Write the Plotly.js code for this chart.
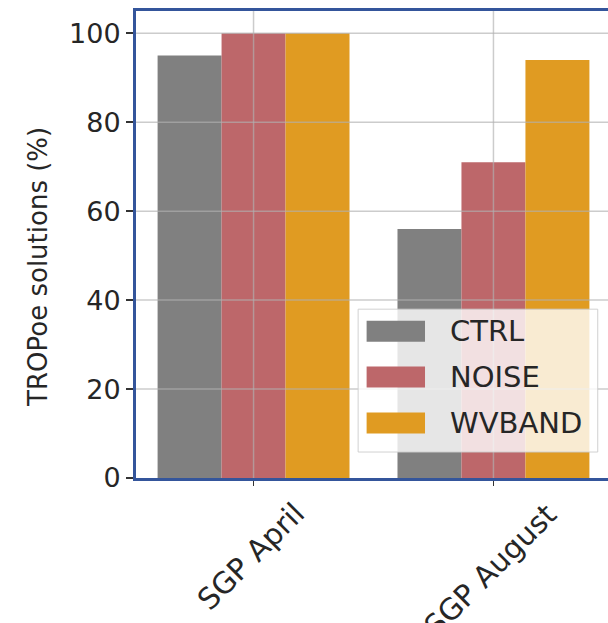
<!DOCTYPE html>
<html>
<head>
<meta charset="utf-8">
<script src="https://cdn.plot.ly/plotly-3.0.1.min.js"></script>
<style>
  html, body { margin: 0; padding: 0; overflow: hidden; background: #fff; }
  #chart { width: 620px; height: 623px; }
</style>
</head>
<body>
<div id="chart"></div>
<script>
// Share of successful TROPoe retrievals per experiment
const categories = ['SGP April', 'SGP August'];
const seriesNames = ['CTRL', 'NOISE', 'WVBAND'];
const ctrlValues = [95, 56];
const noiseValues = [100, 71];
const wvbandValues = [100, 94];
const yTickValues = [0, 20, 40, 60, 80, 100];
const yTitle = 'TROPoe solutions (%)';

const colors = ['#808080', '#bd676a', '#e09b22'];
const textColor = '#262626';
const fontFamily = 'DejaVu Sans, sans-serif';

// plot box geometry (pixels)
const W = 620, H = 623;
const M = { l: 135.5, r: 8.7, t: 10.5, b: 145 };
const plotW = W - M.l - M.r;
const plotH = H - M.t - M.b;
const px = x => (x - M.l) / plotW;
const py = y => (H - M.b - y) / plotH;

const seriesValues = [ctrlValues, noiseValues, wvbandValues];
const traces = seriesNames.map((name, i) => ({
  type: 'bar',
  name: name,
  x: categories,
  y: seriesValues[i],
  marker: { color: colors[i], line: { width: 0 } },
  showlegend: false,
  hoverinfo: 'x+y+name'
}));

const gridColor = 'rgba(176,176,176,0.65)';
const shapes = [];
// grid drawn over the bars
yTickValues.filter(v => v > 0).forEach(v => shapes.push({
  type: 'line', layer: 'above', xref: 'paper', yref: 'y',
  x0: 0, x1: 1, y0: v, y1: v,
  line: { color: gridColor, width: 1.5 }
}));
categories.forEach(c => shapes.push({
  type: 'line', layer: 'above', xref: 'x', yref: 'paper',
  x0: c, x1: c, y0: 0, y1: 1,
  line: { color: gridColor, width: 1.5 }
}));

// legend box
shapes.push({
  type: 'rect', layer: 'above', xref: 'paper', yref: 'paper',
  x0: px(358), x1: px(598), y0: py(452), y1: py(309),
  fillcolor: 'rgba(255,255,255,0.8)',
  line: { color: 'rgba(204,204,204,0.9)', width: 1 }
});
const legendRows = [331, 377, 423];
const annotations = [];
seriesNames.forEach((name, i) => {
  shapes.push({
    type: 'rect', layer: 'above', xref: 'paper', yref: 'paper',
    x0: px(366.5), x1: px(425), y0: py(legendRows[i] + 10.5), y1: py(legendRows[i] - 10.5),
    fillcolor: colors[i], line: { width: 0 }
  });
  annotations.push({
    xref: 'paper', yref: 'paper', x: px(448), y: py(legendRows[i]),
    xanchor: 'left', yanchor: 'middle', showarrow: false,
    text: name, font: { family: fontFamily, size: 29, color: textColor }
  });
});

// rotated category labels, centred under their ticks
categories.forEach(c => annotations.push({
  xref: 'x', yref: 'paper', x: c, y: py(494), xshift: -3,
  xanchor: 'center', yanchor: 'top', showarrow: false, textangle: -45,
  text: c, font: { family: fontFamily, size: 29.5, color: textColor }
}));

annotations.push({
  xref: 'paper', yref: 'paper', x: px(38), y: py(267),
  xanchor: 'center', yanchor: 'middle', showarrow: false, textangle: -90,
  text: yTitle, font: { family: fontFamily, size: 26, color: textColor }
});

const axisLine = '#34559b';
const layout = {
  width: W, height: H,
  margin: M,
  paper_bgcolor: '#ffffff',
  plot_bgcolor: '#ffffff',
  barmode: 'group',
  bargap: 0.2,
  bargroupgap: 0,
  font: { family: fontFamily, size: 27, color: textColor },
  xaxis: {
    type: 'category',
    range: [-0.49, 1.49],
    showgrid: false,
    showline: true, mirror: true, linecolor: axisLine, linewidth: 3,
    ticks: 'outside', ticklen: 5, tickwidth: 1.5, tickcolor: '#333',
    showticklabels: false
  },
  yaxis: {
    range: [0, 105],
    tickvals: yTickValues,
    showgrid: false,
    zeroline: false,
    showline: true, mirror: true, linecolor: axisLine, linewidth: 3,
    ticks: 'outside', ticklen: 7, tickwidth: 1.5, tickcolor: '#333',
    tickfont: { family: fontFamily, size: 27, color: textColor }
  },
  shapes: shapes,
  annotations: annotations
};

Plotly.newPlot('chart', traces, layout, { displayModeBar: false, staticPlot: true });
</script>
</body>
</html>
